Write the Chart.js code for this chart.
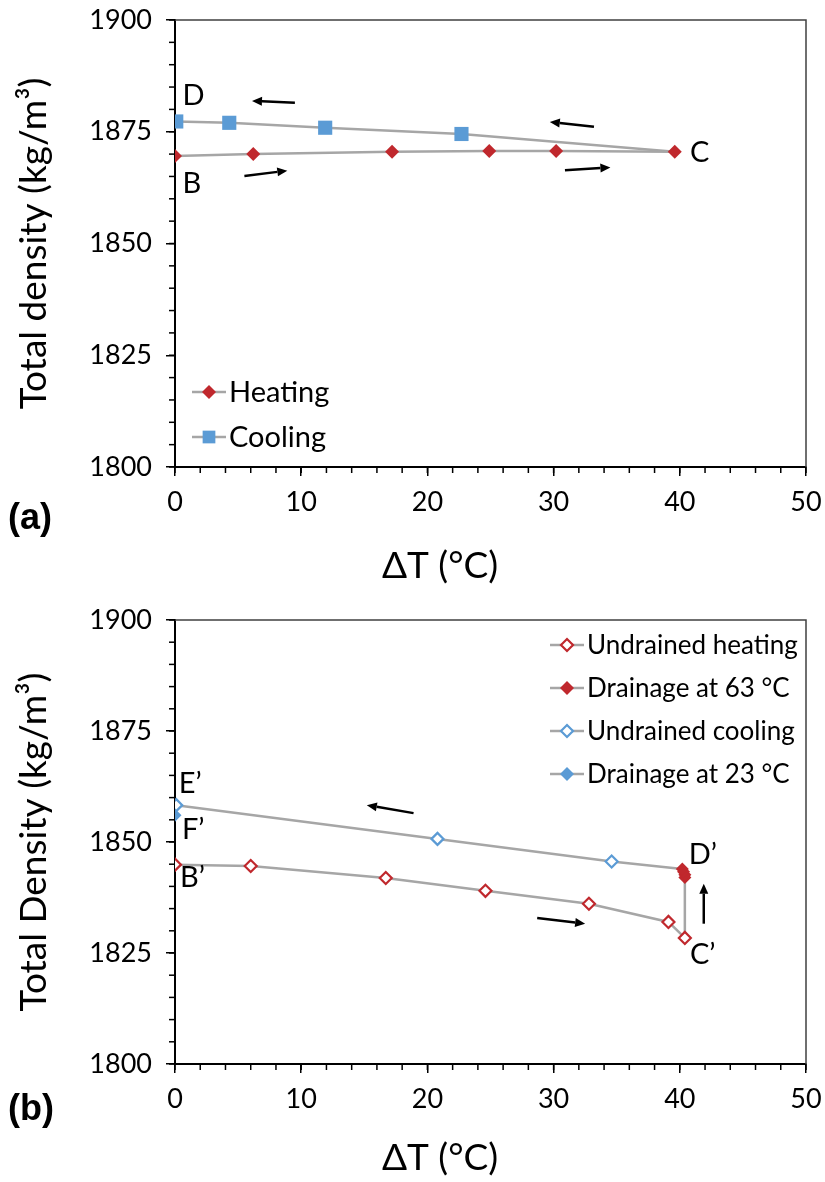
<!DOCTYPE html>
<html>
<head>
<meta charset="utf-8">
<script src="https://cdn.jsdelivr.net/npm/chart.js@4.4.1/dist/chart.umd.min.js"></script>
<style>
  body { margin: 0; background: #fff; }
  canvas { position: absolute; left: 0; }
</style>
</head>
<body>
<canvas id="chartA" width="825" height="590" style="top:0"></canvas>
<canvas id="chartB" width="825" height="592" style="top:590px"></canvas>
<script>
// (a) total density, heating / cooling
const heatT = [0, 6.2, 17.2, 24.9, 30.2, 39.6];
const heatRho = [1869.6, 1870.0, 1870.5, 1870.7, 1870.7, 1870.5];
const coolT = [39.6, 22.7, 11.9, 4.3, 0.1];
const coolRho = [1870.5, 1874.5, 1875.9, 1877.0, 1877.3];

// (b) undrained / drained
const undHeatT = [0, 6.0, 16.7, 24.6, 32.8, 39.1, 40.4];
const undHeatRho = [1844.9, 1844.6, 1841.9, 1839.0, 1836.1, 1832.0, 1828.4];
const drain63T = [40.4, 40.4, 40.4, 40.3, 40.2];
const drain63Rho = [1828.4, 1842.0, 1842.6, 1843.3, 1843.9];
const undCoolT = [40.2, 34.6, 20.8, 0.1];
const undCoolRho = [1843.9, 1845.6, 1850.7, 1858.3];
const drain23T = [0.1, 0];
const drain23Rho = [1858.3, 1856.0];

// axis ticks
const xMin = 0, xMax = 50, xStep = 10, xMinorStep = 2;
const yMin = 1800, yMax = 1900, yStep = 25, yMinorStep = 5;
const xTitle = '\u0394T (\u00B0C)';

// point labels and arrows (data units)
const labelsA = [
    { text: 'D', x: 0.6, y: 1883.0 },
    { text: 'B', x: 0.6, y: 1863.3 },
    { text: 'C', x: 40.8, y: 1870.4 }
];
const arrowsA = [
    [9.5, 1881.5, 6.1, 1881.9],
    [33.2, 1876.1, 29.7, 1877.2],
    [5.5, 1865.1, 8.9, 1866.3],
    [30.9, 1866.4, 34.5, 1867.0]
];
const labelsB = [
    { text: 'E\u2019', x: 0.3, y: 1863.1 },
    { text: 'F\u2019', x: 0.55, y: 1852.7 },
    { text: 'B\u2019', x: 0.4, y: 1842.0 },
    { text: 'D\u2019', x: 40.7, y: 1847.1 },
    { text: 'C\u2019', x: 40.8, y: 1824.6 }
];
const arrowsB = [
    [18.9, 1856.5, 15.2, 1858.3],
    [28.7, 1832.9, 32.5, 1831.6],
    [41.9, 1831.6, 41.9, 1840.6]
];

const FONT = 'Lato, "Open Sans", sans-serif';
const RED = '#C0282D';
const BLUE = '#5B9BD5';
const LINE = '#A6A6A6';

function pts(xs, ys) {
    return xs.map((x, i) => ({ x: x, y: ys[i] }));
}

// frame, minor ticks, arrows, labels, legend, x title, panel tag
const extras = {
    id: 'extras',
    afterDraw(chart, args, opts) {
        const ctx = chart.ctx;
        const xs = chart.scales.x, ys = chart.scales.y;
        const a = chart.chartArea;
        ctx.save();

        ctx.strokeStyle = '#404040';
        ctx.lineWidth = 1.5;
        ctx.beginPath();
        ctx.moveTo(a.left, a.top);
        ctx.lineTo(a.right, a.top);
        ctx.lineTo(a.right, a.bottom);
        ctx.stroke();

        ctx.strokeStyle = '#000';
        ctx.lineWidth = 1.5;
        for (let v = xMin; v <= xMax; v += xMinorStep) {
            const px = xs.getPixelForValue(v);
            ctx.beginPath();
            ctx.moveTo(px, a.bottom);
            ctx.lineTo(px, a.bottom + 6);
            ctx.stroke();
        }
        for (let v = yMin; v <= yMax; v += yMinorStep) {
            const py = ys.getPixelForValue(v);
            ctx.beginPath();
            ctx.moveTo(a.left, py);
            ctx.lineTo(a.left - 6, py);
            ctx.stroke();
        }

        // arrows
        ctx.strokeStyle = '#000';
        ctx.fillStyle = '#000';
        ctx.lineWidth = 2.5;
        opts.arrows.forEach(ar => {
            const x1 = xs.getPixelForValue(ar[0]), y1 = ys.getPixelForValue(ar[1]);
            const x2 = xs.getPixelForValue(ar[2]), y2 = ys.getPixelForValue(ar[3]);
            const ang = Math.atan2(y2 - y1, x2 - x1);
            const hl = 10, hw = 4.5;
            const bx = x2 - hl * Math.cos(ang), by = y2 - hl * Math.sin(ang);
            ctx.beginPath();
            ctx.moveTo(x1, y1);
            ctx.lineTo(bx, by);
            ctx.stroke();
            ctx.beginPath();
            ctx.moveTo(x2, y2);
            ctx.lineTo(bx + hw * Math.sin(ang), by - hw * Math.cos(ang));
            ctx.lineTo(bx - hw * Math.sin(ang), by + hw * Math.cos(ang));
            ctx.closePath();
            ctx.fill();
        });

        // point labels
        ctx.fillStyle = '#000';
        ctx.font = '29px ' + FONT;
        ctx.textAlign = 'left';
        ctx.textBaseline = 'middle';
        opts.labels.forEach(l => {
            ctx.fillText(l.text, xs.getPixelForValue(l.x), ys.getPixelForValue(l.y));
        });

        // legend
        const lg = opts.legend;
        const x0 = lg.fromRight ? a.right - lg.x : a.left + lg.x;
        ctx.font = lg.size + 'px ' + FONT;
        chart.data.datasets.forEach((ds, i) => {
            const y = (lg.fromBottom ? a.bottom : a.top) + lg.rows[i];
            ctx.strokeStyle = LINE;
            ctx.lineWidth = 2.5;
            ctx.beginPath();
            ctx.moveTo(x0, y);
            ctx.lineTo(x0 + 34, y);
            ctx.stroke();
            ctx.fillStyle = ds.pointBackgroundColor;
            ctx.strokeStyle = ds.pointBorderColor;
            ctx.lineWidth = ds.pointBorderWidth;
            Chart.helpers.drawPoint(ctx, {
                pointStyle: ds.pointStyle,
                radius: ds.legendRadius,
                rotation: 0,
                borderWidth: ds.pointBorderWidth
            }, x0 + 17, y);
            ctx.fillStyle = '#000';
            ctx.fillText(ds.label, x0 + 37, y + 1);
        });

        // x axis title
        ctx.font = '37px ' + FONT;
        ctx.textAlign = 'center';
        ctx.fillText(xTitle, opts.xTitleX, a.bottom + opts.xTitleDy);

        // panel tag
        ctx.font = 'bold 36px "Liberation Sans", Arial, sans-serif';
        ctx.textAlign = 'left';
        ctx.fillText(opts.tag, 8, a.bottom + opts.tagDy);

        ctx.restore();
    }
};

function noPad(s) {
    s.paddingLeft = 0;
    s.paddingRight = 0;
    s.paddingTop = 0;
    s.paddingBottom = 0;
}

function axes(yTitle, xHeight) {
    const tickFont = { family: FONT, size: 27 };
    const titleFont = { family: FONT, size: 37 };
    return {
        x: {
            type: 'linear', min: xMin, max: xMax,
            ticks: { stepSize: xStep, color: '#000', font: tickFont, padding: 10, callback: v => String(v) },
            grid: { drawOnChartArea: false, tickLength: 9, color: '#000', lineWidth: 1.5 },
            border: { color: '#000', width: 2 },
            afterFit: s => { s.height = xHeight; noPad(s); }
        },
        y: {
            type: 'linear', min: yMin, max: yMax,
            ticks: { stepSize: yStep, color: '#000', font: tickFont, padding: 14, callback: v => String(v) },
            grid: { drawOnChartArea: false, tickLength: 9, color: '#000', lineWidth: 1.5 },
            border: { color: '#000', width: 2 },
            title: { display: true, text: yTitle, color: '#000', font: titleFont, padding: { top: 12, bottom: 0 } },
            afterFit: s => { s.width = 175; noPad(s); }
        }
    };
}

new Chart(document.getElementById('chartA'), {
    type: 'scatter',
    data: {
        datasets: [{
            label: 'Heating',
            data: pts(heatT, heatRho),
            showLine: true,
            borderColor: LINE,
            borderWidth: 2.5,
            pointStyle: 'rectRot',
            pointRadius: 7,
            legendRadius: 7,
            pointBackgroundColor: RED,
            pointBorderColor: RED,
            pointBorderWidth: 0
        }, {
            label: 'Cooling',
            data: pts(coolT, coolRho),
            showLine: true,
            borderColor: LINE,
            borderWidth: 2.5,
            pointStyle: 'rect',
            pointRadius: [0, 10, 10, 10, 10],
            legendRadius: 9,
            pointBackgroundColor: BLUE,
            pointBorderColor: BLUE,
            pointBorderWidth: 0
        }]
    },
    options: {
        responsive: false,
        animation: false,
        devicePixelRatio: 1,
        layout: { padding: { top: 20, right: 19, left: 0, bottom: 0 } },
        scales: axes('Total density (kg/m\u00B3)', 123),
        plugins: {
            legend: { display: false },
            tooltip: { enabled: false },
            extras: {
                arrows: arrowsA,
                labels: labelsA,
                legend: { x: 17, fromRight: false, fromBottom: true, rows: [-75, -30], size: 29 },
                xTitleX: 440,
                xTitleDy: 99,
                tag: '(a)',
                tagDy: 52
            }
        }
    },
    plugins: [extras]
});

new Chart(document.getElementById('chartB'), {
    type: 'scatter',
    data: {
        datasets: [{
            label: 'Undrained heating',
            data: pts(undHeatT, undHeatRho),
            showLine: true,
            borderColor: LINE,
            borderWidth: 2.5,
            pointStyle: 'rectRot',
            pointRadius: 6,
            legendRadius: 6,
            pointBackgroundColor: '#fff',
            pointBorderColor: RED,
            pointBorderWidth: 2.2
        }, {
            label: 'Drainage at 63 \u00B0C',
            data: pts(drain63T, drain63Rho),
            showLine: true,
            borderColor: LINE,
            borderWidth: 2.5,
            pointStyle: 'rectRot',
            pointRadius: [0, 6.5, 6.5, 6.5, 6.5],
            legendRadius: 7,
            pointBackgroundColor: RED,
            pointBorderColor: RED,
            pointBorderWidth: 0
        }, {
            label: 'Undrained cooling',
            data: pts(undCoolT, undCoolRho),
            showLine: true,
            borderColor: LINE,
            borderWidth: 2.5,
            pointStyle: 'rectRot',
            pointRadius: [0, 6, 6, 6],
            legendRadius: 6,
            pointBackgroundColor: '#fff',
            pointBorderColor: BLUE,
            pointBorderWidth: 2.2
        }, {
            label: 'Drainage at 23 \u00B0C',
            data: pts(drain23T, drain23Rho),
            showLine: true,
            borderColor: LINE,
            borderWidth: 2.5,
            pointStyle: 'rectRot',
            pointRadius: [0, 6.5],
            legendRadius: 7,
            pointBackgroundColor: BLUE,
            pointBorderColor: BLUE,
            pointBorderWidth: 0
        }]
    },
    options: {
        responsive: false,
        animation: false,
        devicePixelRatio: 1,
        layout: { padding: { top: 30, right: 19, left: 0, bottom: 0 } },
        scales: axes('Total Density (kg/m\u00B3)', 118),
        plugins: {
            legend: { display: false },
            tooltip: { enabled: false },
            extras: {
                arrows: arrowsB,
                labels: labelsB,
                legend: { x: 256, fromRight: true, fromBottom: false, rows: [25, 68, 111, 154], size: 26 },
                xTitleX: 440,
                xTitleDy: 94,
                tag: '(b)',
                tagDy: 46
            }
        }
    },
    plugins: [extras]
});
</script>
</body>
</html>
